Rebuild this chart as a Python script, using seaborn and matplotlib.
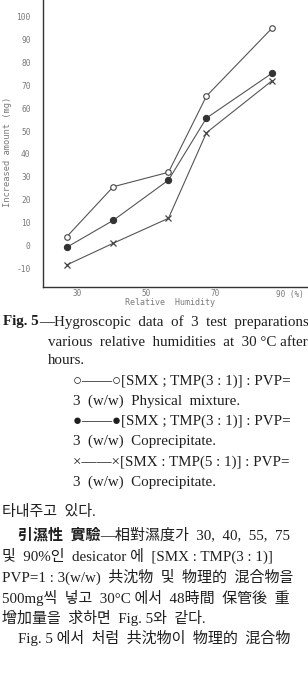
import matplotlib
matplotlib.use('Agg')
import matplotlib.pyplot as plt
import seaborn as sns
import pandas as pd

# relative humidity positions of the plotted points (as drawn) and the weight gain (mg)
rh = [27, 40.5, 56.5, 67.5, 86.5]
phys_mix_31 = [3.8, 25.7, 32.0, 65.3, 95.0]
coprec_31 = [-0.8, 11.0, 28.6, 55.7, 75.3]
coprec_51 = [-8.5, 1.0, 11.9, 49.3, 72.0]

xticks = [30, 50, 70, 90]
xticklabels = ['30', '50', '70', '90 (%)']
yticks = [-10, 0, 10, 20, 30, 40, 50, 60, 70, 80, 90, 100]

df = pd.DataFrame({
    'rh': rh * 3,
    'gain': phys_mix_31 + coprec_31 + coprec_51,
    'prep': ['phys31'] * 5 + ['cop31'] * 5 + ['cop51'] * 5,
})

sns.set_style('white')
W, H = 308, 675
fig = plt.figure(figsize=(W / 100, H / 100), dpi=100)

# chart area, running off the right edge like the scanned page
ax = fig.add_axes([43 / W, 1 - 286.7 / H, (330 - 43) / W, 286.7 / H])
line_col = '#555555'
styles = {
    'phys31': dict(marker='o', markersize=4, markerfacecolor='white', markeredgecolor='#444444', markeredgewidth=0.8),
    'cop31': dict(marker='o', markersize=4.5, markerfacecolor='#333333', markeredgecolor='#333333'),
    'cop51': dict(marker='x', markersize=4, markeredgecolor='#444444', markeredgewidth=0.9),
}
for name, kw in styles.items():
    sns.lineplot(data=df[df.prep == name], x='rh', y='gain', ax=ax, color=line_col,
                 linewidth=0.8, legend=False, **kw)

ax.set_xlim(20.14, 103.3)
ax.set_ylim(-18.0, 107.3)
sns.despine(ax=ax)
for s in ['left', 'bottom']:
    ax.spines[s].set_color('#333333')
    ax.spines[s].set_linewidth(1.0)

mono = 'DejaVu Sans Mono'
tick_col = '#7a7a7a'
ax.set_yticks(yticks)
ax.set_yticklabels([str(v) for v in yticks], fontfamily=mono, fontsize=5.7, color=tick_col)
ax.set_xticks(xticks)
# last label ("90 (%)") is drawn separately so it can start a little left of its tick
ax.set_xticklabels(xticklabels[:-1] + [''], fontfamily=mono, fontsize=5.5, color=tick_col)
ax.annotate(xticklabels[-1], xy=(xticks[-1], 0), xycoords=('data', 'axes fraction'),
            xytext=(-6, -2.5), textcoords='offset points', ha='left', va='top',
            fontfamily=mono, fontsize=5.5, color=tick_col)
ax.tick_params(axis='y', direction='in', length=2, width=0.6, color='#555555', pad=9)
ax.tick_params(axis='x', direction='in', length=2, width=0.6, color='#555555', pad=2)

ax.set_ylabel('Increased amount (mg)', fontfamily=mono, fontsize=6.3, color=tick_col)
ax.yaxis.set_label_coords(-0.108, 0.47)
ax.set_xlabel('Relative  Humidity', fontfamily=mono, fontsize=6.0, color=tick_col)
ax.xaxis.set_label_coords(0.443, -0.041)

# text of the printed page under the figure
serif = ['Liberation Serif', 'DejaVu Serif', 'Noto Sans CJK KR']
txt_col = '#1e1e1e'
fs = 10.8


def put(x, y, s, weight='normal'):
    return fig.text(x / W, 1 - y / H, s, ha='left', va='center', fontfamily=serif,
                    fontsize=fs, color=txt_col, fontweight=weight)


renderer = fig.canvas.get_renderer()


def put_bold_then(x, y, bold, rest):
    t = put(x, y, bold, weight='bold')
    bb = t.get_window_extent(renderer)
    put(bb.x1, y, rest)


put_bold_then(3, 322, 'Fig. 5', '—Hygroscopic  data  of  3  test  preparations')
put(48, 342, 'various  relative  humidities  at  30 °C after')
put(48, 361, 'hours.')
put(73, 381, '○——○[SMX ; TMP(3 : 1)] : PVP=')
put(73, 401, '3  (w/w)  Physical  mixture.')
put(73, 421, '●——●[SMX ; TMP(3 : 1)] : PVP=')
put(73, 441, '3  (w/w)  Coprecipitate.')
put(73, 462, '×——×[SMX : TMP(5 : 1)] : PVP=')
put(73, 482, '3  (w/w)  Coprecipitate.')

put(2, 512, '타내주고  있다.')
put_bold_then(18, 535, '引濕性  實驗', '—相對濕度가  30,  40,  55,  75')
put(2, 556, '및  90%인  desicator 에  [SMX : TMP(3 : 1)]')
put(2, 577, 'PVP=1 : 3(w/w)  共沈物  및  物理的  混合物을')
put(2, 598, '500mg씩  넣고  30°C 에서  48時間  保管後  重')
put(2, 618, '增加量을  求하면  Fig. 5와  같다.')
put(18, 638, 'Fig. 5 에서  처럼  共沈物이  物理的  混合物')

fig.savefig('out.png', dpi=100)
